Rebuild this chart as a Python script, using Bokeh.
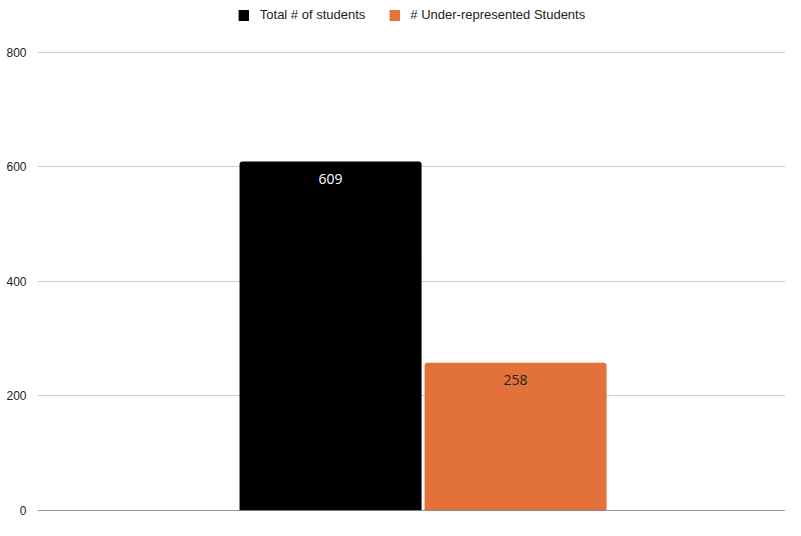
from bokeh.plotting import figure
from bokeh.models import ColumnDataSource, Range1d, Legend, LegendItem, Span, FixedTicker
from bokeh.embed import file_html
from bokeh.resources import INLINE
from bokeh.core.properties import value

categories = ["Total # of students", "# Under-represented Students"]
counts = [609, 258]
colors = ["#000000", "#E2713A"]
label_colors = ["#ffffff", "#222222"]
y_ticks = [0, 200, 400, 600, 800]

src = ColumnDataSource(dict(
    x=list(range(len(categories))),
    cat=categories,
    val=counts,
    lab=[str(v) for v in counts],
    color=colors,
    lcolor=label_colors,
))

p = figure(width=785, height=520, output_backend="svg", toolbar_location=None,
           x_range=Range1d(-1.584, 2.459), y_range=Range1d(0, 878))
p.min_border_left = 37
p.min_border_right = 0
p.min_border_top = 7
p.min_border_bottom = 10
p.outline_line_color = None
p.background_fill_color = "white"
p.border_fill_color = "white"

r = p.vbar(x="x", top="val", width=0.984, bottom=0, source=src, fill_color="color",
           line_color=None, border_radius=(3, 3, 0, 0))

p.text(x="x", y="val", text="lab", source=src, text_color="lcolor",
       text_align="center", text_baseline="top", y_offset=12,
       text_font=value("Open Sans"), text_font_size="14px")

p.xaxis.visible = False
p.xgrid.grid_line_color = None
p.yaxis.ticker = FixedTicker(ticks=y_ticks)
p.ygrid.ticker = FixedTicker(ticks=[200, 400, 600, 800])
p.ygrid.grid_line_color = "#cccccc"
p.ygrid.grid_line_width = 1
p.yaxis.axis_line_color = None
p.yaxis.major_tick_line_color = None
p.yaxis.minor_tick_line_color = None
p.yaxis.major_label_standoff = 5
p.yaxis.major_label_text_font = "Liberation Sans"
p.yaxis.major_label_text_font_size = "12px"
p.yaxis.major_label_text_color = "#222222"

p.add_layout(Span(location=0, dimension="width", line_color="#333333", line_width=1))

legend = Legend(items=[LegendItem(label=c, renderers=[r], index=i) for i, c in enumerate(categories)],
                location="top_center", orientation="horizontal",
                glyph_width=13, glyph_height=14, label_standoff=10, spacing=22,
                padding=0, margin=0, border_line_color=None, background_fill_alpha=0,
                label_text_font="Liberation Sans", label_text_font_size="13px",
                label_text_color="#222222", label_height=14)
p.add_layout(legend)

open("out.html", "w").write(file_html(p, INLINE))
